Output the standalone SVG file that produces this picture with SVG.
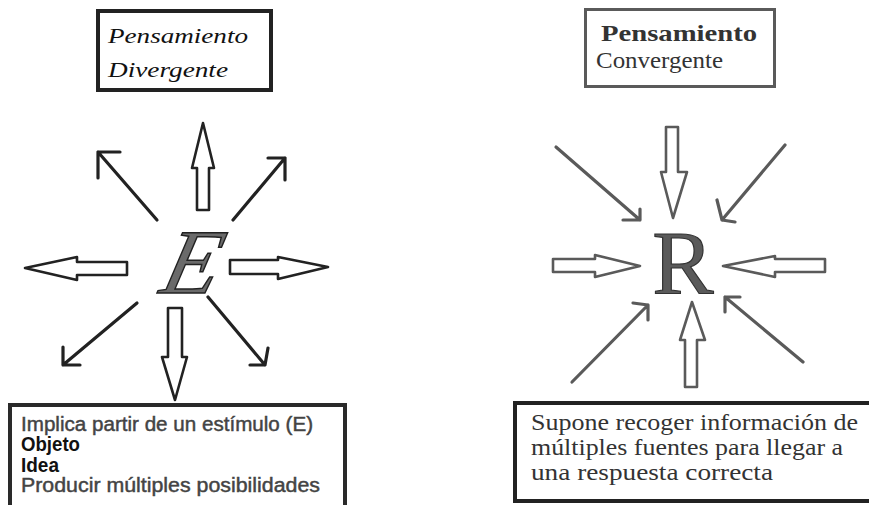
<svg xmlns="http://www.w3.org/2000/svg" width="869" height="505" viewBox="0 0 869 505">
  <style>
    .box { fill: #fff; }
    .dk { stroke: #222; }
    .gy { stroke: #5a5a5a; }
    .blk { fill: #fff; stroke-width: 2.6; stroke-linejoin: round; }
    .ln { fill: none; stroke-width: 3.2; stroke-linecap: round; stroke-linejoin: round; }
    .sans { font-family: "Liberation Sans", Arial, sans-serif; font-size: 20px; }
    .gtx { fill: #444; stroke: #444; stroke-width: 0.45; }
    .serif { font-family: "Liberation Serif", "Times New Roman", serif; }
  </style>
  <rect width="869" height="505" fill="#fff"/>

  <g id="title-divergente">
    <rect class="box" x="98" y="11" width="173" height="79" stroke="#222" stroke-width="4"/>
    <text class="serif" x="108" y="43" font-size="22" font-style="italic" fill="#111" textLength="140" lengthAdjust="spacingAndGlyphs">Pensamiento</text>
    <text class="serif" x="108" y="77" font-size="22" font-style="italic" fill="#111" textLength="120" lengthAdjust="spacingAndGlyphs">Divergente</text>
  </g>

  <g id="title-convergente">
    <rect class="box" x="585.5" y="9.5" width="189" height="77" stroke="#5a5a5a" stroke-width="3"/>
    <text class="serif" x="601" y="41" font-size="24" font-weight="bold" fill="#333" textLength="156" lengthAdjust="spacingAndGlyphs">Pensamiento</text>
    <text class="serif" x="596" y="68" font-size="24" fill="#333" textLength="127" lengthAdjust="spacingAndGlyphs">Convergente</text>
  </g>

  <g id="node-E">
    <text class="serif" transform="translate(186,293) skewX(-14)" x="0" y="0" font-size="92" font-style="italic" text-anchor="middle" fill="#6a6a6a" stroke="#222" stroke-width="1.5">E</text>
  </g>

  <g id="node-R">
    <text class="serif" x="683" y="294" font-size="92" text-anchor="middle" fill="#5a5a5a" stroke="#333" stroke-width="1.2">R</text>
  </g>

  <g id="connectors">
    <!-- divergent block arrows -->
    <polygon class="blk dk" points="197,210 209,210 209,168 214,168 203,123 192,168 197,168"/>
    <polygon class="blk dk" points="168,308 182,308 182,357 187,357 175,400 162,357 168,357"/>
    <polygon class="blk dk" points="230,260 278,260 278,257 328,267 278,279 278,274 230,274"/>
    <polygon class="blk dk" points="127,262 77,262 77,257 25,268 77,280 77,275 127,275"/>
    <!-- divergent line arrows -->
    <path class="ln dk" d="M157,220 L98,152 M120,152 L98,152 L98,178"/>
    <path class="ln dk" d="M233,220 L285,158 M268,158 L285,158 L285,180"/>
    <path class="ln dk" d="M137,303 L63,365 M63,347 L63,365 L80,365"/>
    <path class="ln dk" d="M208,297 L265,365 M250,365 L265,365 L268,348"/>

    <!-- convergent block arrows -->
    <polygon class="blk gy" points="666,127 678,127 678,172 687,172 673,218 661,172 666,172"/>
    <polygon class="blk gy" points="685,387 697,387 697,340 705,340 692,302 680,340 685,340"/>
    <polygon class="blk gy" points="553,259 595,259 595,255 640,266 595,277 595,272 553,272"/>
    <polygon class="blk gy" points="825,259 775,259 775,256 723,266 775,277 775,272 825,272"/>
    <!-- convergent line arrows -->
    <path class="ln gy" d="M556,147 L640,220 M623,220 L640,220 L640,209"/>
    <path class="ln gy" d="M785,145 L722,220 M717,200 L722,220 L735,222"/>
    <path class="ln gy" d="M572,382 L648,305 M633,303 L648,305 L648,320"/>
    <path class="ln gy" d="M803,362 L725,297 M740,297 L725,297 L725,312"/>
  </g>

  <g id="box-divergente">
    <rect class="box" x="10" y="405" width="335" height="130" stroke="#2a2a2a" stroke-width="4"/>
    <text class="sans gtx" x="21" y="431" textLength="292" lengthAdjust="spacingAndGlyphs">Implica partir de un estímulo (E)</text>
    <text class="sans" x="21" y="451" fill="#111" font-weight="bold" textLength="59" lengthAdjust="spacingAndGlyphs">Objeto</text>
    <text class="sans" x="21" y="472" fill="#111" font-weight="bold" textLength="38" lengthAdjust="spacingAndGlyphs">Idea</text>
    <text class="sans gtx" x="21" y="492" textLength="299" lengthAdjust="spacingAndGlyphs">Producir múltiples posibilidades</text>
  </g>

  <g id="box-convergente">
    <rect class="box" x="515" y="403" width="380" height="98" stroke="#222" stroke-width="4"/>
    <text class="serif" x="531" y="430" font-size="24" fill="#333" textLength="327" lengthAdjust="spacingAndGlyphs">Supone recoger información de</text>
    <text class="serif" x="531" y="455" font-size="24" fill="#333" textLength="312" lengthAdjust="spacingAndGlyphs">múltiples fuentes para llegar a</text>
    <text class="serif" x="531" y="480" font-size="24" fill="#333" textLength="242" lengthAdjust="spacingAndGlyphs">una respuesta correcta</text>
  </g>
</svg>
